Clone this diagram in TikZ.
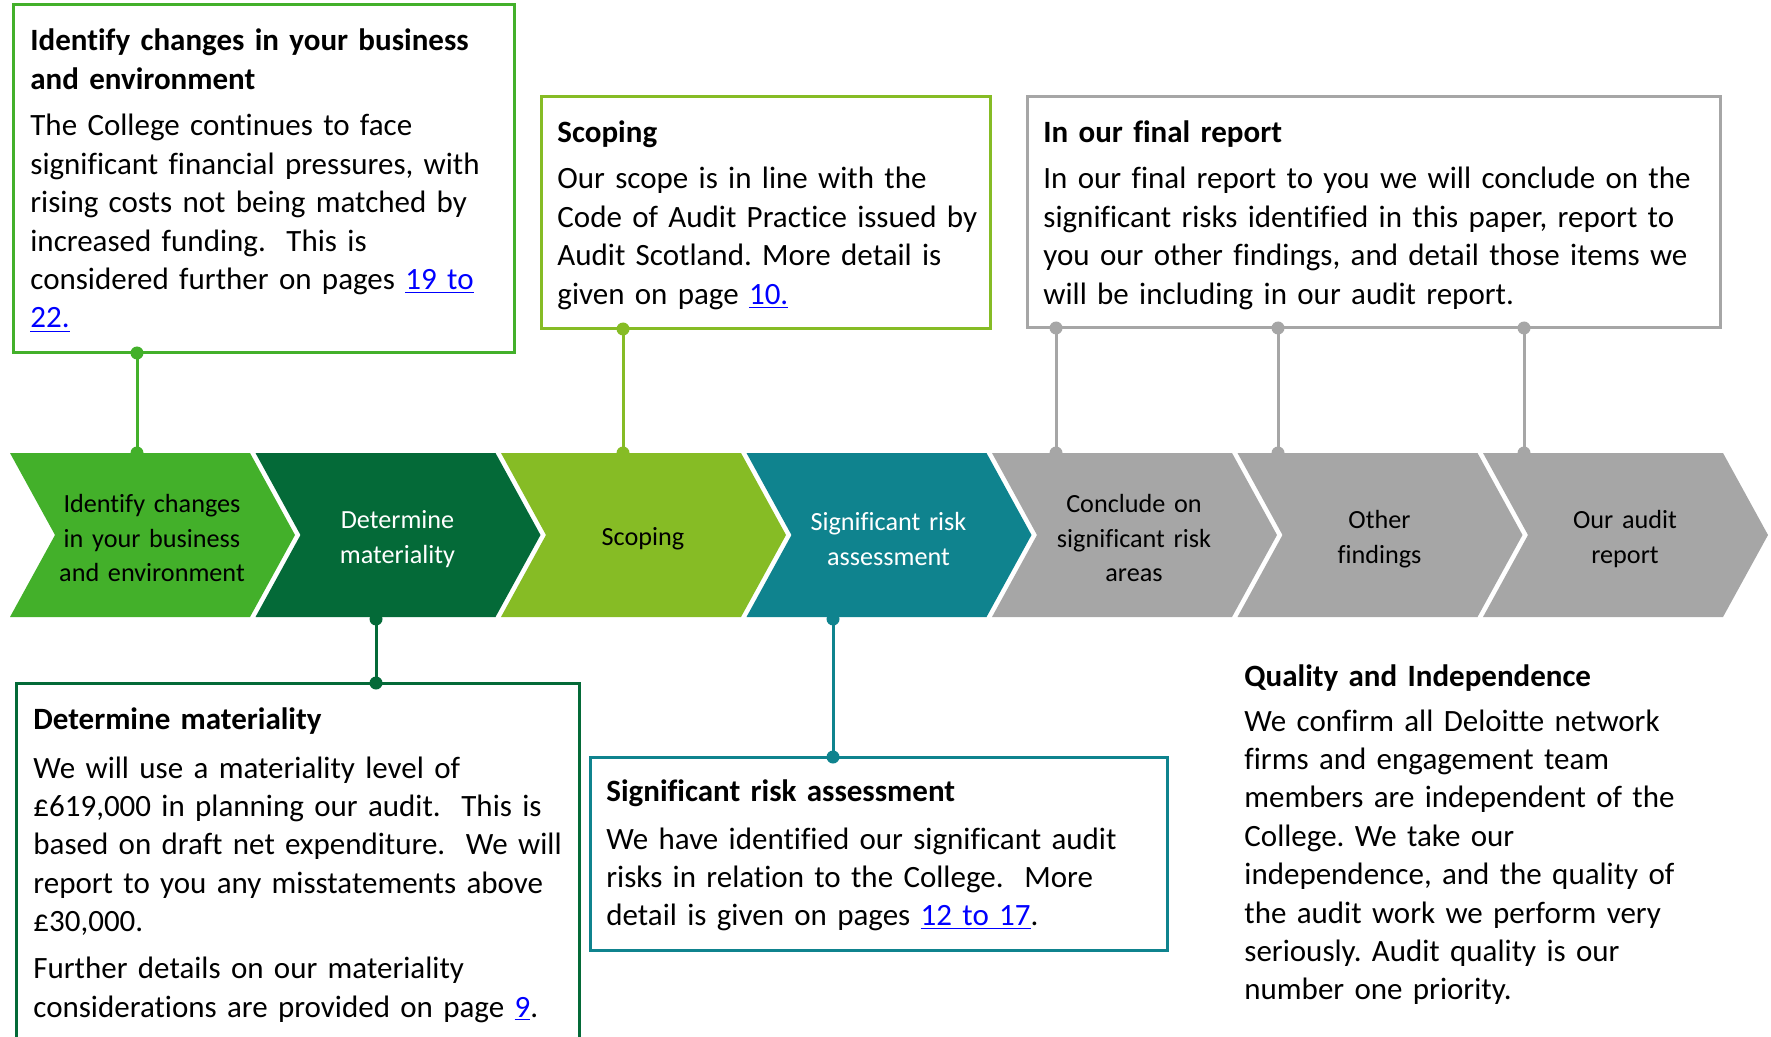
\documentclass[tikz,border=0pt]{standalone}
\usepackage{fontspec}
\setmainfont{Carlito}[Ligatures=NoCommon]
\frenchspacing
\definecolor{cgreen}{HTML}{43B02A}
\definecolor{cdark}{HTML}{046A38}
\definecolor{clime}{HTML}{86BC25}
\definecolor{cteal}{HTML}{0F838E}
\definecolor{cgrey}{HTML}{A6A6A6}
\definecolor{clink}{HTML}{0000FF}
\newcommand{\lnk}[1]{\textcolor{clink}{\underline{#1}}}
\newcommand{\bodyfont}{\fontsize{15.5}{19.2}\selectfont\spaceskip=0.2em\relax}
\newcommand{\titlefont}{\bfseries\fontsize{15.5}{19.2}\selectfont\spaceskip=0.2em\relax}
\begin{document}
\begin{tikzpicture}[x=0.5pt,y=-0.5pt,
  boxline/.style={line width=1.5pt},
  conn/.style={line width=1.5pt},
  dotmark/.style={circle,inner sep=0pt,minimum size=6.5pt},
  chev/.style={align=center,text width=130pt,inner sep=0pt,font=\fontsize{13.1}{17.25}\selectfont},
  ttl/.style={anchor=base west,inner sep=0pt,text width=340pt,align=left,font=\titlefont},
  bdy/.style={anchor=base west,inner sep=0pt,text width=340pt,align=left,font=\bodyfont}]
\useasboundingbox (0,0) rectangle (1771,1037);

% chevrons
\foreach \x/\c in {10/cgreen,255.5/cdark,501/clime,746.5/cteal,992/cgrey,1237.5/cgrey,1483/cgrey}
  \fill[\c] (\x,453) -- ++(240,0) -- ++(45,82) -- ++(-45,82) -- ++(-240,0) -- ++(45,-82) -- cycle;

\node[chev,text=black] (ch1) at (152,538) {Identify changes\\in your business\\and environment};
\node[chev,text=white] (ch2) at (397.5,539) {Determine\\materiality};
\node[chev,text=black] (ch3) at (643,539) {Scoping};
\node[chev,text=white] (ch4) at (888.5,539) {Significant risk\\assessment};
\node[chev,text=black] (ch5) at (1134,538) {Conclude on\\significant risk\\areas};
\node[chev,text=black] (ch6) at (1379.5,539) {Other\\findings};
\node[chev,text=black] (ch7) at (1625,539) {Our audit\\report};

% boxes
\draw[boxline,cgreen] (13,5) rectangle (514,353);
\draw[boxline,clime] (541,97) rectangle (990,329);
\draw[boxline,cgrey] (1027,97) rectangle (1720,328);
\draw[boxline,cdark] (16,683) rectangle (579,1050);
\draw[boxline,cteal] (590,757) rectangle (1167,950);

% connectors
\node[dotmark,fill=cgreen] (p1a) at (137,353) {};
\node[dotmark,fill=cgreen] (p1b) at (137,453) {};
\draw[conn,cgreen] (p1a.center) -- (p1b.center);

\node[dotmark,fill=clime] (p3a) at (623,329) {};
\node[dotmark,fill=clime] (p3b) at (623,453) {};
\draw[conn,clime] (p3a.center) -- (p3b.center);

\node[dotmark,fill=cgrey] (p5a) at (1056,328) {};
\node[dotmark,fill=cgrey] (p5b) at (1056,453) {};
\draw[conn,cgrey] (p5a.center) -- (p5b.center);
\node[dotmark,fill=cgrey] (p6a) at (1278,328) {};
\node[dotmark,fill=cgrey] (p6b) at (1278,453) {};
\draw[conn,cgrey] (p6a.center) -- (p6b.center);
\node[dotmark,fill=cgrey] (p7a) at (1524,328) {};
\node[dotmark,fill=cgrey] (p7b) at (1524,453) {};
\draw[conn,cgrey] (p7a.center) -- (p7b.center);

\node[dotmark,fill=cdark] (p2a) at (376,619) {};
\node[dotmark,fill=cdark] (p2b) at (376,683) {};
\draw[conn,cdark] (p2a.center) -- (p2b.center);

\node[dotmark,fill=cteal] (p4a) at (833,619) {};
\node[dotmark,fill=cteal] (p4b) at (833,757) {};
\draw[conn,cteal] (p4a.center) -- (p4b.center);

% texts
\node[ttl] (t1) at (30,51) {Identify changes in your business\\and environment};
\node[bdy] (b1) at (30,136) {The College continues to face\\significant financial pressures, with\\rising costs not being matched by\\increased funding.\ \ This is\\considered further on pages \lnk{19 to}\\\lnk{22.}};

\node[ttl] (t2) at (557,143) {Scoping};
\node[bdy] (b2) at (557,189) {Our scope is in line with the\\Code of Audit Practice issued by\\Audit Scotland. More detail is\\given on page \lnk{10.}};

\node[ttl] (t3) at (1043,143) {In our final report};
\node[bdy] (b3) at (1043,189) {In our final report to you we will conclude on the\\significant risks identified in this paper, report to\\you our other findings, and detail those items we\\will be including in our audit report.};

\node[ttl] (t4) at (33,729) {Determine materiality};
\node[bdy] (b4) at (33,778) {We will use a materiality level of\\£619,000 in planning our audit.\ \ This is\\based on draft net expenditure.\ \ We will\\report to you any misstatements above\\£30,000.\\[4.3pt]Further details on our materiality\\considerations are provided on page \lnk{9}.};

\node[ttl] (t5) at (606,801) {Significant risk assessment};
\node[bdy] (b5) at (606,849) {We have identified our significant audit\\risks in relation to the College.\ \ More\\detail is given on pages \lnk{12 to 17}.};

\node[ttl] (t6) at (1244,686) {Quality and Independence};
\node[bdy] (b6) at (1244,731) {We confirm all Deloitte network\\firms and engagement team\\members are independent of the\\College. We take our\\independence, and the quality of\\the audit work we perform very\\seriously. Audit quality is our\\number one priority.};
\end{tikzpicture}
\end{document}
